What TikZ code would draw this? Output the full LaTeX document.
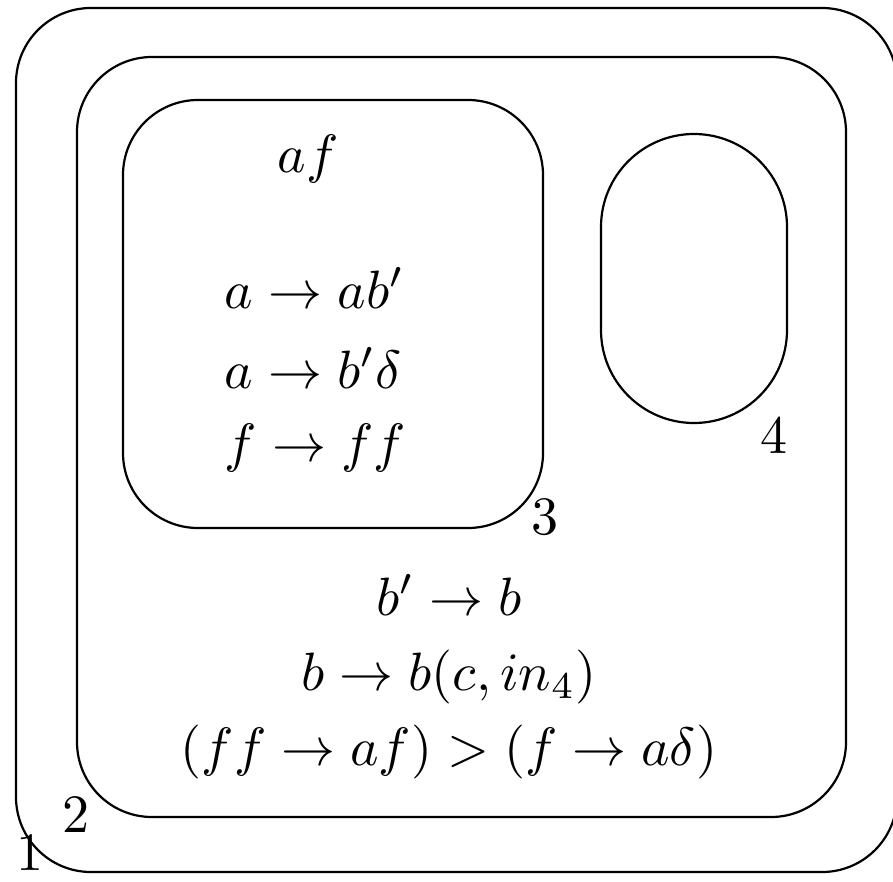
\documentclass[tikz,border=0pt]{standalone}
\usepackage{amsmath}
\usepackage{tikz}

\begin{document}
\begin{tikzpicture}[x=0.5pt, y=-0.5pt, line width=1.1pt,
		membrane/.style={draw=black, rounded corners=37.5pt},
		rulebox/.style={inner sep=0pt, transform shape, scale=2.7},
		memlabel/.style={inner sep=0pt, transform shape, scale=2.7}]
				\useasboundingbox (0,0) rectangle (893,882);

				% skin membrane 1 and membrane 2
				\draw[membrane] (16,8) rectangle (897,872);
				\draw[membrane] (77,57) rectangle (846,817);

				% membrane 3 and membrane 4
				\draw[membrane] (123,100) rectangle (543,528);
				\draw[draw=black, rounded corners=46.5pt] (601,134) rectangle (787,423);

				% contents of membrane 3
				\node[rulebox, anchor=base] (obj3) at (308,173) {$af$};
				\node[rulebox, anchor=base west] (rule3a) at (222,308) {$a \rightarrow ab'$};
				\node[rulebox, anchor=base west] (rule3b) at (222,388) {$a \rightarrow b'\delta$};
				\node[rulebox, anchor=base west] (rule3c) at (222,461) {$f \rightarrow ff$};

				% rules of membrane 2
				\node[rulebox, anchor=base] (rule2a) at (449,615) {$b' \rightarrow b$};
				\node[rulebox, anchor=base] (rule2b) at (449,690) {$b \rightarrow b(c, in_4)$};
				\node[rulebox, anchor=base] (rule2c) at (449,765)
					{$(ff \rightarrow af) > (f \rightarrow a\delta)$};

				% membrane labels
				\node[memlabel] (lab1) at (30,853) {1};
				\node[memlabel] (lab2) at (76,815) {2};
				\node[memlabel] (lab3) at (545,517) {3};
				\node[memlabel] (lab4) at (774,435) {4};
			\end{tikzpicture}
\end{document}
